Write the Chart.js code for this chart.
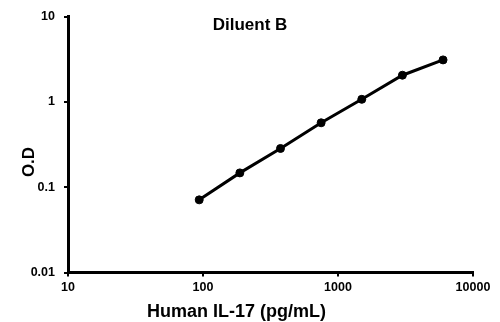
<!DOCTYPE html>
<html>
<head>
<meta charset="utf-8">
<script src="https://cdn.jsdelivr.net/npm/chart.js@4"></script>
<style>
  body { margin: 0; background: #fff; }
  #wrap { width: 500px; height: 322px; }
</style>
</head>
<body>
<div id="wrap"><canvas id="chart" width="500" height="322"></canvas></div>
<script>
// --- DATA ---
const concentrations = [93.75, 187.5, 375, 750, 1500, 3000, 6000];
const odValues = [0.071, 0.147, 0.284, 0.568, 1.07, 2.05, 3.1];

const xTicks = [10, 100, 1000, 10000];
const xTickLabels = ['10', '100', '1000', '10000'];
const yTicks = [0.01, 0.1, 1, 10];
const yTickLabels = ['0.01', '0.1', '1', '10'];

const chartTitle = 'Diluent B';
const xTitle = 'Human IL-17 (pg/mL)';
const yTitle = 'O.D';

// --- TEXT PLUGIN (title + axis titles sit where Excel put them) ---
const labelsPlugin = {
    id: 'labels',
    afterDraw(chart) {
        const ctx = chart.ctx;
        ctx.save();
        ctx.fillStyle = '#000';
        ctx.textAlign = 'center';
        ctx.textBaseline = 'alphabetic';

        ctx.font = 'bold 17px "Liberation Sans"';
        ctx.fillText(chartTitle, 250, 29.5);

        ctx.font = 'bold 18px "Liberation Sans"';
        ctx.fillText(xTitle, 236.5, 317);

        ctx.translate(33.5, 162);
        ctx.rotate(-Math.PI / 2);
        ctx.font = 'bold 17px "Liberation Sans"';
        ctx.fillText(yTitle, 0, 0);
        ctx.restore();
    }
};

const tickFont = { family: 'Liberation Sans', size: 12.5, weight: 'bold' };

new Chart(document.getElementById('chart'), {
    type: 'scatter',
    data: {
        datasets: [{
            data: concentrations.map((c, i) => ({ x: c, y: odValues[i] })),
            showLine: true,
            borderColor: '#000',
            backgroundColor: '#000',
            borderWidth: 3,
            pointRadius: 4,
            pointBorderWidth: 1,
            pointBackgroundColor: '#000',
            pointBorderColor: '#000',
            tension: 0
        }]
    },
    options: {
        responsive: false,
        animation: false,
        layout: { padding: { top: 13.5, right: 27, left: 0, bottom: 0 } },
        plugins: {
            legend: { display: false },
            tooltip: { enabled: false }
        },
        scales: {
            x: {
                type: 'logarithmic',
                min: 10,
                max: 10000,
                afterBuildTicks: (scale) => { scale.ticks = xTicks.map(v => ({ value: v })); },
                afterFit: (scale) => { scale.height = 49.5; },
                border: { color: '#000', width: 3 },
                grid: { drawOnChartArea: false, drawTicks: true, tickLength: 4, color: '#000', lineWidth: 2 },
                ticks: {
                    color: '#000',
                    font: tickFont,
                    padding: 4,
                    maxRotation: 0,
                    autoSkip: false,
                    callback: (v, i) => xTickLabels[i]
                }
            },
            y: {
                type: 'logarithmic',
                min: 0.01,
                max: 10,
                afterBuildTicks: (scale) => { scale.ticks = yTicks.map(v => ({ value: v })); },
                afterFit: (scale) => { scale.width = 68; },
                border: { color: '#000', width: 3 },
                grid: { drawOnChartArea: false, drawTicks: true, tickLength: 4, color: '#000', lineWidth: 2 },
                ticks: {
                    color: '#000',
                    font: tickFont,
                    padding: 9,
                    autoSkip: false,
                    callback: (v, i) => yTickLabels[i]
                }
            }
        }
    },
    plugins: [labelsPlugin]
});
</script>
</body>
</html>
